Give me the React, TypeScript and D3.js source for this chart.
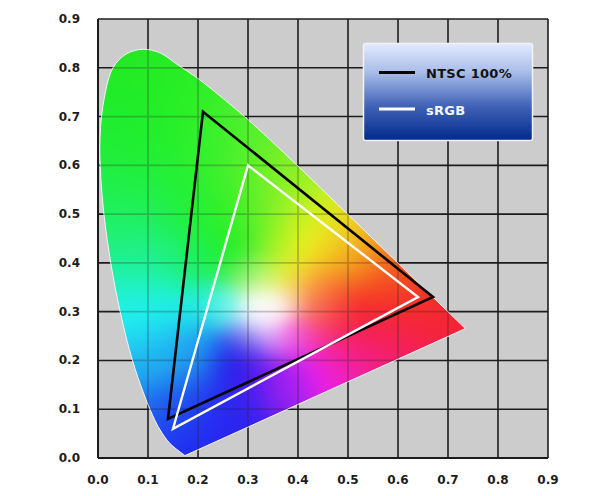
import React, { useMemo } from "react";
import * as d3 from "d3";

const xTicks = [0, 0.1, 0.2, 0.3, 0.4, 0.5, 0.6, 0.7, 0.8, 0.9];
const yTicks = [0, 0.1, 0.2, 0.3, 0.4, 0.5, 0.6, 0.7, 0.8, 0.9];

const locusX = [0.1741,0.144,0.1241,0.1096,0.0913,0.0687,0.0454,0.0235,0.0082,0.0039,0.0129,0.03,0.056,0.09,0.125,0.1597,0.1949,0.2296,0.3016,0.3731,0.4441,0.5125,0.5752,0.627,0.6915,0.7347];
const locusY = [0.005,0.0297,0.0578,0.0868,0.1327,0.2007,0.295,0.4127,0.5384,0.6548,0.74,0.8,0.828,0.838,0.83,0.8059,0.7816,0.7543,0.6923,0.6245,0.5547,0.4866,0.4242,0.3725,0.3083,0.2653];

const ntscX = [0.21, 0.67, 0.14];
const ntscY = [0.71, 0.33, 0.08];
const srgbX = [0.3, 0.64, 0.15];
const srgbY = [0.6, 0.33, 0.06];

const legendLabels = ["NTSC 100%", "sRGB"];

// Colours at chromaticity positions
const fieldX = [0.08,0.15,0.03,0.1,0.2,0.28,0.02,0.1,0.2,0.3,0.38,0.02,0.1,0.2,0.28,0.35,0.42,0.5,0.05,0.12,0.2,0.28,0.35,0.42,0.48,0.55,0.62,0.06,0.12,0.2,0.26,0.33,0.31,0.35,0.33,0.38,0.44,0.5,0.58,0.66,0.73,0.3,0.38,0.33,0.42,0.45,0.1,0.15,0.2,0.27,0.3,0.35,0.4,0.47,0.55,0.65,0.36,0.3,0.44,0.52,0.6,0.15,0.2,0.27,0.37,0.2,0.28];
const fieldY = [0.82,0.78,0.7,0.7,0.7,0.68,0.6,0.6,0.6,0.58,0.58,0.5,0.5,0.5,0.5,0.5,0.5,0.46,0.4,0.4,0.4,0.42,0.42,0.44,0.4,0.4,0.36,0.3,0.3,0.31,0.31,0.31,0.31,0.31,0.29,0.32,0.31,0.31,0.31,0.31,0.265,0.38,0.38,0.36,0.36,0.33,0.2,0.22,0.22,0.2,0.25,0.25,0.25,0.25,0.24,0.24,0.17,0.18,0.17,0.16,0.2,0.1,0.1,0.1,0.125,0.02,0.06];
const fieldColor = ["#25e825","#28ee25","#20ec30","#20ee25","#30f028","#58f030","#20ee40","#22f035","#28f030","#60f028","#90f028","#20f068","#20f058","#22f030","#30f028","#88f028","#d8f420","#f0d820","#20f0a0","#20f090","#20f050","#18ec20","#a0f028","#f8f820","#f4b020","#f48020","#f46020","#22f4f4","#22f4f4","#22f0e8","#80f8f0","#ffffff","#ffffff","#ffffff","#fff8ff","#fff0e8","#f88070","#f52020","#f52020","#f52020","#f52535","#a0f080","#f4f430","#e8f8a8","#f8c040","#f86030","#20b0f0","#20b8f0","#2088f0","#1414e8","#a0a0f0","#f0b0f8","#f850e8","#f82880","#f52060","#f52050","#a020f0","#4818f0","#f020f4","#f020c0","#f02080","#2060f0","#2040f0","#3020f0","#9020f0","#2020f0","#3020f0"];

const width = 600;
const height = 496;
const x = d3.scaleLinear().domain([0, 0.9]).range([98, 548]);
const y = d3.scaleLinear().domain([0, 0.9]).range([458, 19]);

function useField(): string {
  return useMemo(() => {
    const [x0, x1] = x.range();
    const [y0, y1] = [y.range()[1], y.range()[0]];
    const w = x1 - x0, h = y1 - y0;
    const c = document.createElement("canvas");
    c.width = w; c.height = h;
    const ctx = c.getContext("2d");
    if (!ctx) return "";
    const img = ctx.createImageData(w, h);
    const rgb = fieldColor.map((s) => d3.rgb(s));
    const sig2 = fieldX.map((fx, k) => {
      const dist = Math.hypot(fx - 0.33, fieldY[k] - 0.31);
      const s = Math.min(0.06, 0.022 + 0.12 * dist);
      return 2 * s * s;
    });
    for (let j = 0; j < h; j++) {
      for (let i = 0; i < w; i++) {
        const dx = x.invert(x0 + i), dy = y.invert(y0 + j);
        let sw = 1e-12, r = 0, g = 0, b = 0;
        for (let k = 0; k < rgb.length; k++) {
          const d2 = (dx - fieldX[k]) ** 2 + (dy - fieldY[k]) ** 2;
          const wt = Math.exp(-d2 / sig2[k]);
          sw += wt; r += wt * rgb[k].r; g += wt * rgb[k].g; b += wt * rgb[k].b;
        }
        const p = (j * w + i) * 4;
        img.data[p] = r / sw; img.data[p + 1] = g / sw; img.data[p + 2] = b / sw; img.data[p + 3] = 255;
      }
    }
    ctx.putImageData(img, 0, 0);
    return c.toDataURL();
  }, []);
}

export default function App() {
  const field = useField();
  const locus = d3.line<number>().x((v) => x(v)).y((_, i) => y(locusY[i])).curve(d3.curveCatmullRom)(locusX)! + "Z";
  const tri = (xs: number[], ys: number[]) => d3.line<number>().x((v) => x(v)).y((_, i) => y(ys[i]))(xs)! + "Z";
  const font = "'DejaVu Sans', Verdana, sans-serif";
  const grid = (op: number, w: number) => (
    <g stroke="#1c1c1c" strokeWidth={w} opacity={op}>
      {xTicks.map((t) => <line key={"x" + t} x1={x(t)} x2={x(t)} y1={y(0.9)} y2={y(0)} />)}
      {yTicks.map((t) => <line key={"y" + t} x1={x(0)} x2={x(0.9)} y1={y(t)} y2={y(t)} />)}
    </g>
  );
  return (
    <svg width={width} height={height} style={{ position: "absolute", left: 0, top: 0, background: "#fff" }}>
      <defs>
        <clipPath id="locus"><path d={locus} /></clipPath>
        <linearGradient id="legendFill" x1="0" x2="0" y1="0" y2="1">
          <stop offset="0" stopColor="#e2eaff" />
          <stop offset="0.3" stopColor="#a8bce8" />
          <stop offset="0.65" stopColor="#3f62b6" />
          <stop offset="1" stopColor="#002a8c" />
        </linearGradient>
      </defs>
      <rect x={x(0)} y={y(0.9)} width={x(0.9) - x(0)} height={y(0) - y(0.9)} fill="#cccccc" />
      {grid(1, 1.6)}
      <line x1={x(0)} x2={x(0.9)} y1={y(0)} y2={y(0)} stroke="#1c1c1c" strokeWidth={2} />
      <line x1={x(0)} x2={x(0)} y1={y(0)} y2={y(0.9)} stroke="#1c1c1c" strokeWidth={2} />
      <image href={field} x={x(0)} y={y(0.9)} width={x(0.9) - x(0)} height={y(0) - y(0.9)} clipPath="url(#locus)" preserveAspectRatio="none" />
      <path d={locus} fill="none" stroke="#f4f4f4" strokeWidth={1} />
      <g clipPath="url(#locus)">{grid(0.25, 1.8)}</g>
      <path d={tri(ntscX, ntscY)} fill="none" stroke="#050505" strokeWidth={2.6} strokeLinejoin="miter" />
      <path d={tri(srgbX, srgbY)} fill="none" stroke="#ffffff" strokeWidth={2.4} strokeLinejoin="miter" />
      <g fontFamily={font} fontWeight="bold" fontSize={12} fill="#1c1c1c">
        {xTicks.map((t) => <text key={t} x={x(t)} y={484} textAnchor="middle">{t.toFixed(1)}</text>)}
        {yTicks.map((t) => <text key={t} x={80} y={y(t) + 4} textAnchor="end">{t.toFixed(1)}</text>)}
      </g>
      <rect x={363.5} y={43.5} width={169} height={97} rx={2} fill="url(#legendFill)" stroke="#f2f2f2" strokeWidth={1.5} />
      <line x1={379} x2={415} y1={72.5} y2={72.5} stroke="#050505" strokeWidth={3} />
      <line x1={379} x2={415} y1={109} y2={109} stroke="#ffffff" strokeWidth={3} />
      <text x={426} y={78} fontFamily={font} fontWeight="bold" fontSize={13} letterSpacing={0.3} fill="#111">{legendLabels[0]}</text>
      <text x={426} y={115} fontFamily={font} fontWeight="bold" fontSize={13} letterSpacing={0.3} fill="#f4f6ff">{legendLabels[1]}</text>
    </svg>
  );
}
